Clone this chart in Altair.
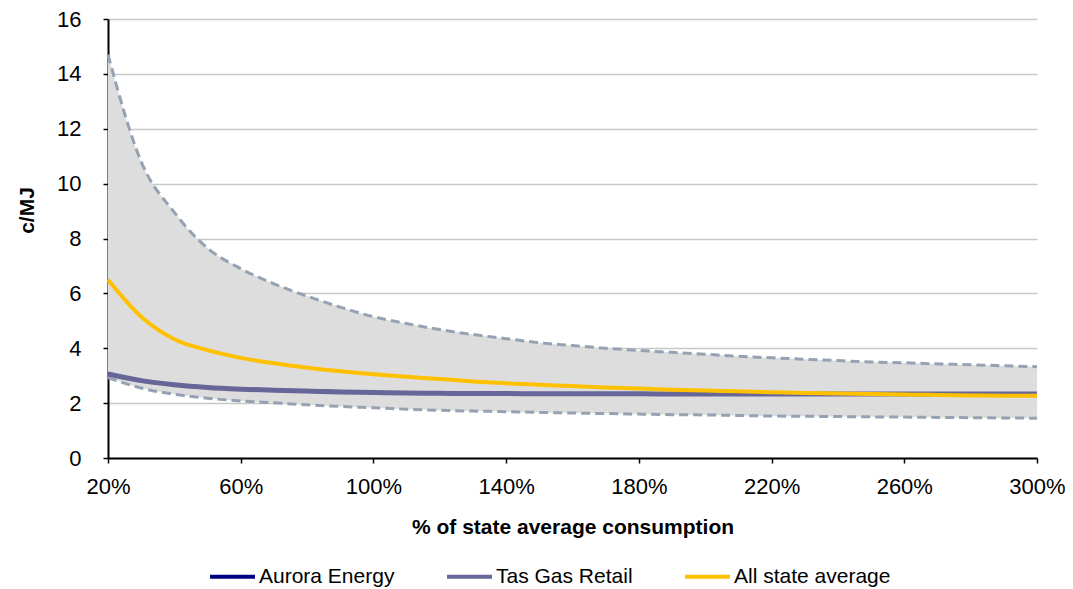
import altair as alt
import pandas as pd

pct = [20, 30, 40, 50, 60, 70, 80, 90, 100, 110, 120, 130, 140, 150, 160,
       170, 180, 190, 200, 210, 220, 230, 240, 250, 260, 270, 280, 290, 300]

upper = [14.7, 10.8, 8.95, 7.65, 6.9, 6.35, 5.9, 5.5, 5.15, 4.9, 4.68, 4.5, 4.35, 4.2, 4.1,
         4.0, 3.92, 3.85, 3.78, 3.71, 3.65, 3.6, 3.55, 3.5, 3.47, 3.43, 3.4, 3.36, 3.33]
lower = [2.93, 2.55, 2.32, 2.18, 2.08, 2.01, 1.94, 1.88, 1.83, 1.78, 1.74, 1.71, 1.69, 1.66, 1.64,
         1.62, 1.6, 1.58, 1.57, 1.55, 1.53, 1.52, 1.51, 1.5, 1.49, 1.48, 1.47, 1.46, 1.45]
state_avg = [6.5, 5.15, 4.33, 3.93, 3.65, 3.45, 3.29, 3.16, 3.05, 2.96, 2.88, 2.79, 2.72, 2.67, 2.62,
             2.57, 2.53, 2.49, 2.46, 2.43, 2.4, 2.37, 2.35, 2.33, 2.31, 2.3, 2.28, 2.27, 2.27]
tas_gas = [3.06, 2.82, 2.67, 2.57, 2.51, 2.47, 2.44, 2.41, 2.39, 2.37, 2.36, 2.35, 2.35, 2.34, 2.34,
           2.34, 2.34, 2.33, 2.33, 2.33, 2.33, 2.33, 2.33, 2.33, 2.33, 2.33, 2.33, 2.33, 2.33]
aurora = [3.08, 2.83, 2.68, 2.58, 2.52, 2.48, 2.45, 2.42, 2.4, 2.38, 2.37, 2.36, 2.36, 2.35, 2.35,
          2.35, 2.35, 2.35, 2.35, 2.35, 2.35, 2.35, 2.35, 2.35, 2.35, 2.35, 2.35, 2.35, 2.35]

series_names = ["Aurora Energy", "Tas Gas Retail", "All state average"]
series_colors = ["#000080", "#666699", "#FFC000"]
x_ticks = [20, 60, 100, 140, 180, 220, 260, 300]
y_ticks = [0, 2, 4, 6, 8, 10, 12, 14, 16]

band = pd.DataFrame({"pct": pct, "lower": lower, "upper": upper})
lines = pd.DataFrame({
    "pct": pct * 3,
    "value": aurora + tas_gas + state_avg,
    "series": [series_names[0]] * len(pct) + [series_names[1]] * len(pct) + [series_names[2]] * len(pct),
})

FONT = "Liberation Sans"
INTERP = "monotone"

x_enc = alt.X(
    "pct:Q",
    scale=alt.Scale(domain=[20, 300], nice=False, zero=False),
    axis=alt.Axis(
        values=x_ticks, labelExpr="datum.value + '%'", title="% of state average consumption",
        grid=False, domainColor="black", domainWidth=2, tickColor="black", tickSize=5, tickWidth=1.5,
        labelFontSize=22, labelFont=FONT, labelColor="black", labelPadding=13,
        titleFontSize=21, titleFont=FONT, titleFontWeight="bold", titleColor="black",
        titleY=69, titleBaseline="middle", labelFlush=False,
    ),
)
y_axis = alt.Axis(
    values=y_ticks, title="c/MJ", grid=True, gridColor="#C8C8C8", gridWidth=1.5,
    domainColor="black", domainWidth=2, tickColor="black", tickSize=5, tickWidth=1.5,
    labelFontSize=22, labelFont=FONT, labelColor="black", labelPadding=22,
    titleFontSize=21, titleFont=FONT, titleFontWeight="bold", titleColor="black",
    titleX=-81, titleY=191, titleAngle=270, titleAlign="center", titleBaseline="middle",
)
y_scale = alt.Scale(domain=[0, 16], nice=False)

area = alt.Chart(band).mark_area(color="#DDDDDD", opacity=1, interpolate=INTERP).encode(
    x=x_enc,
    y=alt.Y("lower:Q", scale=y_scale, axis=y_axis),
    y2="upper:Q",
)
dash_up = alt.Chart(band).mark_line(
    color="#95A2B3", strokeWidth=3, strokeDash=[9, 5], interpolate=INTERP
).encode(x="pct:Q", y="upper:Q")
dash_lo = alt.Chart(band).mark_line(
    color="#95A2B3", strokeWidth=3, strokeDash=[9, 5], interpolate=INTERP
).encode(x="pct:Q", y="lower:Q")

color_scale = alt.Scale(domain=series_names, range=series_colors)
legend = alt.Legend(
    title=None, orient="none", direction="horizontal", legendX=100, legendY=533,
    symbolType="stroke", symbolSize=2025, symbolStrokeWidth=4, labelFontSize=21, labelFont=FONT,
    labelColor="black", labelOffset=2, columnPadding=44, padding=0, labelLimit=300,
)


def series_line(name, width):
    return alt.Chart(lines).transform_filter(alt.datum.series == name).mark_line(
        strokeWidth=width, interpolate=INTERP
    ).encode(
        x="pct:Q", y="value:Q",
        color=alt.Color("series:N", scale=color_scale, legend=legend),
    )


chart = alt.layer(
    area, dash_up, dash_lo,
    series_line("Aurora Energy", 3),
    series_line("Tas Gas Retail", 5),
    series_line("All state average", 4),
).properties(
    width=929, height=439,
    autosize=alt.AutoSizeParams(type="none"),
    padding={"left": 100, "top": 11, "right": 28, "bottom": 130},
).configure_view(stroke=None)

chart.save("out.html", embed_options={"renderer": "svg", "actions": False})
